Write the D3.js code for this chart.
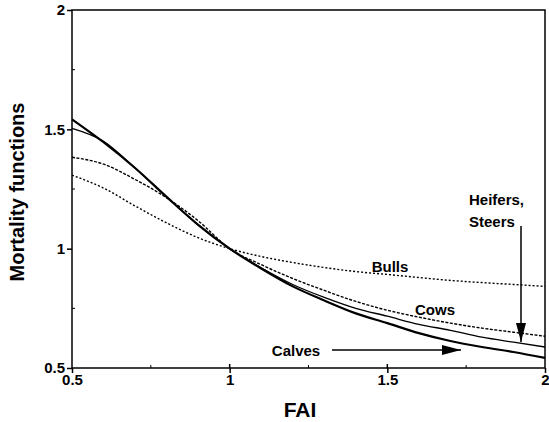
<!DOCTYPE html>
<html>
<head>
<meta charset="utf-8">
<script src="https://cdn.jsdelivr.net/npm/d3@7"></script>
<style>
  body { margin: 0; background: #fff; }
  svg text { font-family: "Liberation Sans", Arial, sans-serif; font-weight: bold; fill: #000; }
</style>
</head>
<body>
<svg id="chart" width="549" height="422"></svg>
<script>
// FAI values where curves were read
var fai = [0.5, 0.6, 0.7, 0.8, 0.9, 1.0, 1.1, 1.2, 1.3, 1.4, 1.5, 1.6, 1.7, 1.8, 1.9, 2.0];

var calves  = [1.542, 1.446, 1.338, 1.217, 1.100, 1.0, 0.917, 0.842, 0.783, 0.729, 0.688, 0.646, 0.613, 0.588, 0.567, 0.542];
var heifers = [1.504, 1.450, 1.338, 1.217, 1.100, 1.0, 0.920, 0.850, 0.796, 0.750, 0.717, 0.683, 0.658, 0.629, 0.608, 0.588];
var cows    = [1.383, 1.354, 1.290, 1.213, 1.117, 1.0, 0.933, 0.875, 0.825, 0.779, 0.742, 0.713, 0.688, 0.667, 0.650, 0.633];
var bulls   = [1.308, 1.254, 1.179, 1.108, 1.046, 1.0, 0.967, 0.942, 0.921, 0.904, 0.892, 0.879, 0.867, 0.858, 0.850, 0.842];

var xTicks = [0.5, 1, 1.5, 2];
var yTicks = [0.5, 1, 1.5, 2];
var minorTicks = [0.75, 1.25, 1.75];

var svg = d3.select("#chart");
var plotL = 72, plotR = 545, plotT = 10, plotB = 368;

var x = d3.scaleLinear().domain([0.5, 2]).range([plotL, plotR]);
var y = d3.scaleLinear().domain([0.5, 2]).range([plotB, plotT]);

// Frame
svg.append("rect")
    .attr("x", plotL).attr("y", plotT)
    .attr("width", plotR - plotL).attr("height", plotB - plotT)
    .attr("fill", "none").attr("stroke", "#000").attr("stroke-width", 1.5);

// Axes
var yAxis = svg.append("g")
    .attr("transform", "translate(" + plotL + ",0)")
    .call(d3.axisLeft(y).tickValues(yTicks).tickFormat(d3.format("")).tickSize(5).tickPadding(2));
var xAxis = svg.append("g")
    .attr("transform", "translate(0," + plotB + ")")
    .call(d3.axisBottom(x).tickValues(xTicks).tickFormat(d3.format("")).tickSize(5).tickPadding(1));

[yAxis, xAxis].forEach(function(a) {
    a.select(".domain").remove();
    a.selectAll(".tick line").attr("stroke", "#000").attr("stroke-width", 1.5);
    a.selectAll(".tick text")
        .style("font-family", "'Liberation Sans', Arial, sans-serif")
        .style("font-weight", "bold")
        .style("font-size", "15px");
});

// Minor inward ticks
svg.append("g").selectAll("line")
    .data(minorTicks)
    .enter().append("line")
    .attr("x1", plotL).attr("x2", plotL + 3)
    .attr("y1", function(d) { return y(d); }).attr("y2", function(d) { return y(d); })
    .attr("stroke", "#000");
svg.append("g").selectAll("line")
    .data(minorTicks)
    .enter().append("line")
    .attr("x1", function(d) { return x(d); }).attr("x2", function(d) { return x(d); })
    .attr("y1", plotB).attr("y2", plotB - 3)
    .attr("stroke", "#000");
svg.append("g").selectAll("line")
    .data([1, 1.5])
    .enter().append("line")
    .attr("x1", function(d) { return x(d); }).attr("x2", function(d) { return x(d); })
    .attr("y1", plotB).attr("y2", plotB - 4)
    .attr("stroke", "#000").attr("stroke-width", 1.5);

// Curves
var line = d3.line()
    .x(function(d) { return x(d[0]); })
    .y(function(d) { return y(d[1]); })
    .curve(d3.curveMonotoneX);

var series = [
    {values: bulls,   width: 1.4, dash: "2,2"},
    {values: cows,    width: 1.4, dash: "3,1.5"},
    {values: heifers, width: 1.3, dash: null},
    {values: calves,  width: 2.2, dash: null}
];

series.forEach(function(s) {
    svg.append("path")
        .datum(fai.map(function(f, i) { return [f, s.values[i]]; }))
        .attr("d", line)
        .attr("fill", "none")
        .attr("stroke", "#000")
        .attr("stroke-width", s.width)
        .attr("stroke-dasharray", s.dash);
});

// Labels
function label(txt, px, py, anchor, size) {
    svg.append("text")
        .attr("x", px).attr("y", py)
        .attr("text-anchor", anchor || "middle")
        .style("font-size", (size || 15) + "px")
        .text(txt);
}
label("Bulls", 390, 272);
label("Cows", 435, 315);
label("Calves", 296, 356);
label("Heifers,", 469, 205, "start");
label("Steers", 469, 227, "start");

// Arrows
svg.append("defs").append("marker")
    .attr("id", "head")
    .attr("viewBox", "0 0 10 10")
    .attr("refX", 10).attr("refY", 5)
    .attr("markerWidth", 19).attr("markerHeight", 10)
    .attr("markerUnits", "userSpaceOnUse")
    .attr("orient", "auto")
    .attr("preserveAspectRatio", "none")
    .append("path").attr("d", "M0,0L10,5L0,10Z").attr("fill", "#000");

svg.append("line")
    .attr("x1", 332).attr("y1", 350).attr("x2", 461).attr("y2", 350)
    .attr("stroke", "#000").attr("stroke-width", 1.5)
    .attr("marker-end", "url(#head)");
svg.append("line")
    .attr("x1", 521).attr("y1", 226).attr("x2", 521).attr("y2", 342)
    .attr("stroke", "#000").attr("stroke-width", 1.5)
    .attr("marker-end", "url(#head)");

// Axis titles
svg.append("text")
    .attr("x", 300).attr("y", 417)
    .attr("text-anchor", "middle")
    .style("font-size", "21px")
    .text("FAI");
svg.append("text")
    .attr("transform", "translate(24,192) rotate(-90)")
    .attr("text-anchor", "middle")
    .style("font-size", "20px")
    .text("Mortality functions");
</script>
</body>
</html>
